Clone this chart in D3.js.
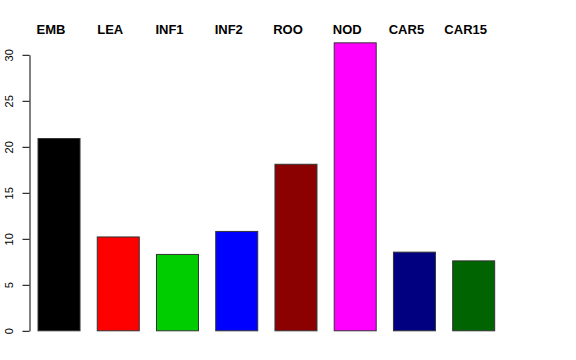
<!DOCTYPE html>
<html>
<head>
<meta charset="utf-8">
<script src="https://cdn.jsdelivr.net/npm/d3@7"></script>
<style>
  html, body { margin: 0; padding: 0; background: #fff; }
  svg { display: block; }
</style>
</head>
<body>
<svg id="chart" width="576" height="360"></svg>
<script>
const categories = ["EMB", "LEA", "INF1", "INF2", "ROO", "NOD", "CAR5", "CAR15"];
const values = [20.9, 10.2, 8.3, 10.8, 18.1, 31.3, 8.55, 7.6];
const colors = ["#000000", "#FF0000", "#00CD00", "#0000FF", "#8B0000", "#FF00FF", "#000080", "#006400"];
const yTicks = [0, 5, 10, 15, 20, 25, 30];

const svg = d3.select("#chart");

const x = d3.scaleBand()
  .domain(categories)
  .range([29.4, 503.3])
  .paddingInner(0.291)
  .paddingOuter(0.1455);

const y = d3.scaleLinear()
  .domain([0, 30])
  .range([330.8, 54.8]);

// bars
svg.append("g")
  .selectAll("rect")
  .data(categories)
  .join("rect")
  .attr("x", d => x(d))
  .attr("y", (d, i) => y(values[i]))
  .attr("width", x.bandwidth())
  .attr("height", (d, i) => y(0) - y(values[i]))
  .attr("fill", (d, i) => colors[i])
  .attr("stroke", "#333")
  .attr("stroke-width", 1);

// y axis (R style)
const yAxis = d3.axisLeft(y)
  .tickValues(yTicks)
  .tickSize(7)
  .tickSizeOuter(0)
  .tickFormat(d3.format("d"));

const gy = svg.append("g")
  .attr("transform", "translate(29.5,0)")
  .call(yAxis);
gy.select(".domain").attr("stroke", "#000");
gy.selectAll(".tick line").attr("stroke", "#000");
gy.selectAll(".tick text")
  .attr("font-family", "'Liberation Sans', Arial, sans-serif")
  .attr("font-size", 11)
  .attr("fill", "#000")
  .attr("text-anchor", "middle")
  .attr("transform", "rotate(-90)")
  .attr("x", 0)
  .attr("y", 0)
  .attr("dy", 0)
  .attr("dx", 0)
  .each(function() {
    const t = d3.select(this);
    t.attr("transform", `translate(-16.5,0) rotate(-90)`);
  });

// category labels on top
svg.append("g")
  .selectAll("text")
  .data(categories)
  .join("text")
  .attr("x", d => x(d) + x.bandwidth() / 2 - 8)
  .attr("y", 33.5)
  .attr("text-anchor", "middle")
  .attr("font-family", "'Liberation Sans', Arial, sans-serif")
  .attr("font-weight", "bold")
  .attr("font-size", 13)
  .attr("fill", "#000")
  .text(d => d);
</script>
</body>
</html>
